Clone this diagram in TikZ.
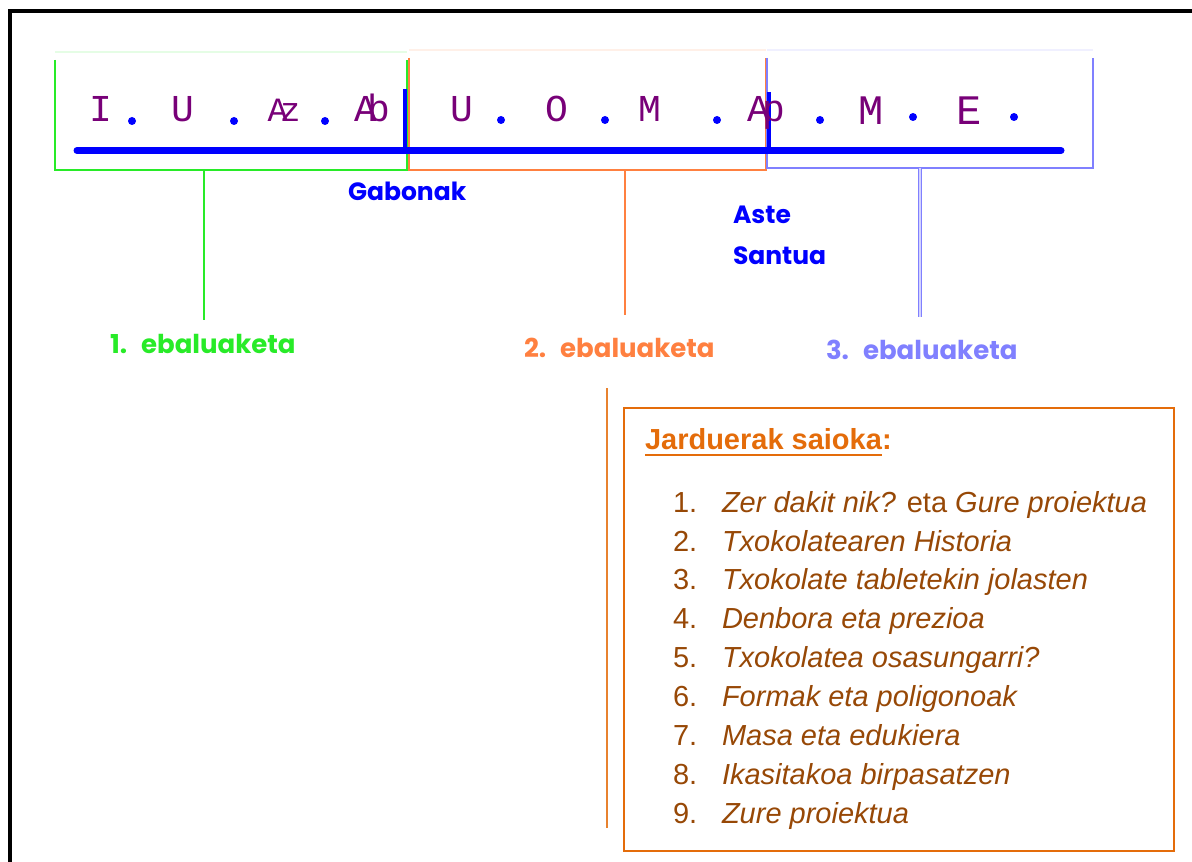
\documentclass[tikz,border=0pt]{standalone}
\usepackage{fontspec}
\setmainfont{Liberation Sans}
\newfontfamily\handfont{Liberation Mono}
\newfontfamily\comicfont{Poppins}
\definecolor{pengreen}{RGB}{40,235,40}
\definecolor{penorange}{RGB}{255,128,64}
\definecolor{penlav}{RGB}{128,128,255}
\definecolor{penblue}{RGB}{0,0,255}
\definecolor{penpurple}{RGB}{120,0,120}
\definecolor{boxorange}{RGB}{228,108,10}
\definecolor{listbrown}{RGB}{151,72,6}
\tikzset{
  every node/.style={inner sep=0pt, outer sep=0pt},
  hand/.style={font=\handfont\fontsize{19pt}{19pt}\selectfont, text=penpurple, anchor=base},
  pendot/.style={fill=penblue},
  comic/.style={font=\comicfont\bfseries\fontsize{12.5pt}{14pt}\selectfont, anchor=base west},
  evlabel/.style={comic, font=\comicfont\bfseries\fontsize{13pt}{14pt}\selectfont},
  listnum/.style={font=\fontsize{14.5pt}{16pt}\selectfont, text=listbrown, anchor=base west},
  listtxt/.style={font=\fontsize{14.5pt}{16pt}\selectfont\itshape, text=listbrown, anchor=base west},
  termbox/.style={line width=0.75pt},
}
\begin{document}
\begin{tikzpicture}[x=0.5pt,y=-0.5pt]
\useasboundingbox (0,0) rectangle (1192,861);
\clip (0,0) rectangle (1192,861);
\fill[white] (0,0) rectangle (1192,861);

% outer frame (runs off the right and bottom edges)
\draw[line width=2pt] (10,900) -- (10,11.5) -- (1230,11.5);

% term boxes: faint top edge, coloured sides and bottom
\coordinate (g1) at (55,52);  \coordinate (g2) at (407,170);
\coordinate (o1) at (409,50); \coordinate (o2) at (766,170);
\coordinate (l1) at (767,50); \coordinate (l2) at (1093,168);
\draw[termbox, pengreen!12] (g1) -- (g1 -| g2);
\draw[termbox, pengreen] (55,60) -- (g1 |- g2) -- (g2) -- (407,60);
\draw[termbox, penorange!12] (o1) -- (o1 -| o2);
\draw[termbox, penorange] (409,58) -- (o1 |- o2) -- (o2) -- (766,58);
\draw[termbox, penlav!12] (l1) -- (l1 -| l2);
\draw[termbox, penlav] (767,58) -- (l1 |- l2) -- (l2) -- (1093,58);

% timeline with the two holiday ticks
\coordinate (tlA) at (77,150.5);
\coordinate (tlB) at (1061,150.5);
\draw[penblue, line width=3.5pt, line cap=round] (tlA) -- (tlB);
\coordinate (tick1) at (404.5,89);
\coordinate (tick2) at (769,92);
\draw[penblue, line width=2pt] (tick1) -- (tick1 |- tlA);
\draw[penblue, line width=2pt] (tick2) -- (tick2 |- tlA);

% month initials
\node[hand] (m1) at (101,122) {I};
\node[hand] (m2) at (183,122) {U};
\node[hand, font=\handfont\fontsize{17pt}{17pt}\selectfont] (m3) at (284,122) {A\kern-4pt z};
\node[hand] (m4) at (372,122) {A\kern-5pt b};
\node[hand] (m5) at (462,122) {U};
\node[hand] (m6) at (557,122) {O};
\node[hand] (m7) at (650,122) {M};
\node[hand] (m8) at (766,122) {A\kern-4pt p};
\node[hand, font=\handfont\fontsize{21pt}{21pt}\selectfont] (m9) at (871,125) {M};
\node[hand, font=\handfont\fontsize{21pt}{21pt}\selectfont] (m10) at (969,125) {E};
\foreach \x/\y in {132/121, 234/121, 325/121, 501/120, 605/120, 717/120, 820/120, 913/117, 1014/117}
  \fill[pendot] (\x,\y) circle[radius=2pt];

% holiday labels
\node[comic, text=penblue] (gab) at (348,200) {Gabonak};
\node[comic, text=penblue] (aste) at (733,223) {Aste};
\node[comic, text=penblue] (santua) at (733,264) {Santua};

% assessment labels and their connectors
\node[evlabel, text=pengreen] (ev1) at (110,353) {1.\kern7pt ebaluaketa};
\node[evlabel, text=penorange] (ev2) at (524,357) {2.\kern7pt ebaluaketa};
\node[evlabel, text=penlav] (ev3) at (826,359) {3.\kern7pt ebaluaketa};
\coordinate (c1a) at (204,170);  \coordinate (c1b) at (204,320);
\coordinate (c2a) at (625,170);  \coordinate (c2b) at (625,315);
\coordinate (c3a) at (920,168);  \coordinate (c3b) at (920,317);
\draw[pengreen, line width=1pt] (c1a) -- (c1b);
\draw[penorange, line width=1.2pt] (c2a) -- (c2b);
\draw[penlav, line width=0.4pt, double=penlav!35, double distance=0.8pt] (c3a) -- (c3b);

% activity list
\coordinate (side1) at (607,388);
\coordinate (side2) at (607,828);
\draw[boxorange!85, line width=1pt] (side1) -- (side2);
\coordinate (bx1) at (624,408);
\coordinate (bx2) at (1174,851);
\draw[boxorange, line width=1pt] (bx1) rectangle (bx2);

\node[font=\fontsize{14.5pt}{16pt}\selectfont\bfseries, text=boxorange, anchor=base west] (ttl) at (645,449) {Jarduerak saioka};
\node[font=\fontsize{14.5pt}{16pt}\selectfont\bfseries, text=boxorange, anchor=base west] (ttlc) at (ttl.base east) {:};
\draw[boxorange, line width=1.4pt] ([yshift=-3pt]ttl.base west) -- ([yshift=-3pt]ttl.base east);

\foreach \i/\t [count=\k from 0] in {
  2/Txokolatearen Historia,
  3/Txokolate tabletekin jolasten,
  4/Denbora eta prezioa,
  5/Txokolatea osasungarri?,
  6/Formak eta poligonoak,
  7/Masa eta edukiera,
  8/Ikasitakoa birpasatzen,
  9/Zure proiektua}
{
  \node[listnum] (n\i) at (673,551+38.9*\k) {\i.};
  \node[listtxt] (t\i) at (722,551+38.9*\k) {\t};
}
\node[listnum] (n1) at (673,512) {1.};
\node[listtxt] (t1) at (722,512) {Zer dakit nik?\upshape{} eta \itshape Gure proiektua};
\end{tikzpicture}
\end{document}
